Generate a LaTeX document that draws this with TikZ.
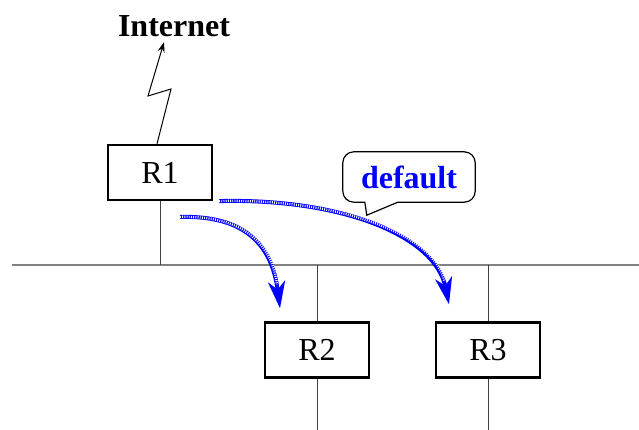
\documentclass[tikz,border=0pt]{standalone}
\usepackage{fontspec}
\setmainfont{Liberation Serif}
\usetikzlibrary{arrows.meta,positioning}

\tikzset{
  router/.style={draw, line width=2.2pt, minimum width=104pt, minimum height=55pt,
    inner sep=0pt, font=\fontsize{32}{36}\selectfont},
  wire/.style={draw=black!75, line width=1pt},
  route/.style={draw=blue, line width=4pt,
    -{Stealth[length=27pt,width=17pt,inset=8pt]}},
  routedots/.style={draw=white, line width=2.4pt, dash pattern=on 0.9pt off 1.3pt,
    shorten >=24pt},
}

\begin{document}
\begin{tikzpicture}[x=1pt,y=-1pt]
\useasboundingbox (0,0) rectangle (639,430);

\node[font=\fontsize{32}{36}\bfseries] (internet) at (174,26) {Internet};
\node[router] (r1) at (160,172.5) {R1};
\node[router] (r2) at (317,350) {R2};
\node[router] (r3) at (488,350) {R3};
\node[text=blue, font=\fontsize{32}{36}\bfseries, minimum width=132pt,
  minimum height=50pt, inner sep=0pt] (dflt) at (409,177) {default};

\coordinate (busL) at (12,265);
\coordinate (busR) at (639,265);
\draw[draw=black!50, line width=1.5pt] (busL) -- (busR);

\draw[wire] (r1.south) -- (r1.south |- busL);
\draw[wire] (r2.north) -- (r2.north |- busL);
\draw[wire] (r3.north) -- (r3.north |- busL);
\coordinate (r2end) at (r2.south |- 0,430);
\coordinate (r3end) at (r3.south |- 0,430);
\draw[wire] (r2.south) -- (r2end);
\draw[wire] (r3.south) -- (r3end);

% link up to the internet
\draw[line width=1pt, -{Stealth[length=10pt,width=7pt]}]
  ([xshift=-3pt]r1.north) -- (171,89) -- (148,96) -- ([xshift=-10pt,yshift=-2pt]internet.south);

% callout
\draw[line width=1.2pt, rounded corners=11pt]
  ([xshift=55pt]dflt.south west) -- (dflt.south east) -- (dflt.north east)
  -- (dflt.north west) -- (dflt.south west)
  [sharp corners] -- ([xshift=22pt]dflt.south west)
  -- ([xshift=24pt,yshift=-13pt]dflt.south west) -- cycle;

% default routes
\coordinate (s1) at (180,217);
\coordinate (s2) at ([xshift=6pt]r1.south east);
\coordinate (t1) at ([xshift=-37pt,yshift=13pt]r2.north);
\coordinate (t2) at ([xshift=-39pt,yshift=17pt]r3.north);
\foreach \s/\a/\b/\t in {s1/{(245,215)}/{(272,245)}/t1, s2/{(340,198)}/{(435,235)}/t2}{
  \draw[route] (\s) .. controls \a and \b .. (\t);
  \draw[routedots] (\s) .. controls \a and \b .. (\t);
}
\end{tikzpicture}
\end{document}
